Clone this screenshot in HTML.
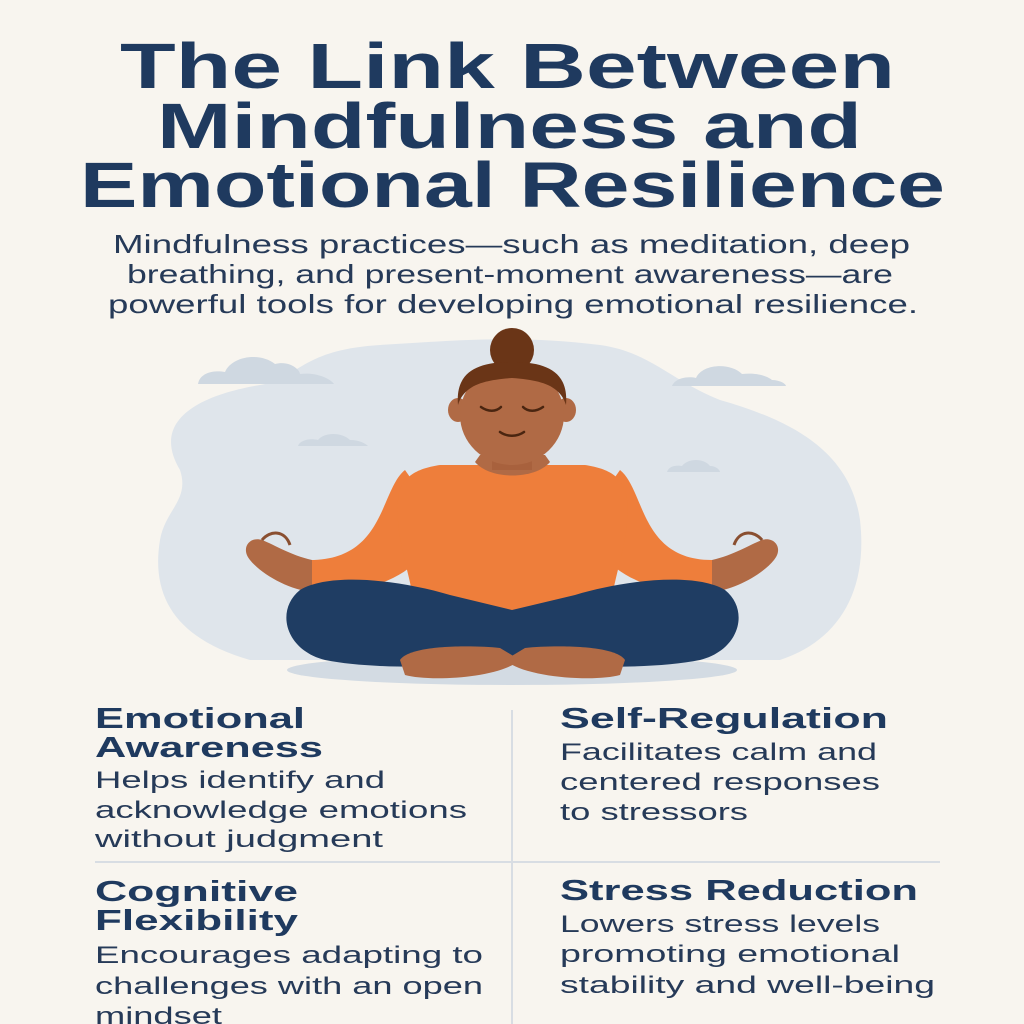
<!DOCTYPE html>
<html><head><meta charset="utf-8"><style>
html,body{margin:0;padding:0;background:#f8f5ef;}
svg{display:block}
text{font-family:"Liberation Sans","DejaVu Sans",sans-serif;}
.t{font-weight:bold;fill:#1f3a5f;font-size:64px}
.s{fill:#263a58;font-size:26px}
.h{font-weight:bold;fill:#1f3a5f;font-size:29px}
.b{fill:#263a58;font-size:24px}
</style></head><body>
<svg width="1024" height="1024" viewBox="0 0 1024 1024">
<rect width="1024" height="1024" fill="#f8f5ef"/>
<text class="t" x="120" y="88" textLength="775" lengthAdjust="spacingAndGlyphs">The Link Between</text>
<text class="t" x="157" y="148" textLength="705" lengthAdjust="spacingAndGlyphs">Mindfulness and</text>
<text class="t" x="80" y="207" textLength="865" lengthAdjust="spacingAndGlyphs">Emotional Resilience</text>
<text class="s" x="113" y="253" textLength="797" lengthAdjust="spacingAndGlyphs">Mindfulness practices—such as meditation, deep</text>
<text class="s" x="127" y="283" textLength="766" lengthAdjust="spacingAndGlyphs">breathing, and present-moment awareness—are</text>
<text class="s" x="108" y="313" textLength="810" lengthAdjust="spacingAndGlyphs">powerful tools for developing emotional resilience.</text>

<!-- blob -->
<path d="M180,470 C150,420 200,395 260,385 C300,378 300,350 380,345 C460,340 520,335 600,345 C650,352 670,380 720,400 C790,420 850,450 860,520 C868,590 840,640 780,660 L250,660 C180,640 150,600 160,540 C165,510 190,500 180,470 Z" fill="#dfe5eb"/>
<!-- clouds -->
<g fill="#cfd8e1">
<path d="M198,384 C200,372 215,370 225,372 C232,356 260,352 275,364 C290,360 300,370 300,374 C315,372 330,378 334,384 Z"/>
<path d="M672,386 C675,378 688,376 696,378 C702,364 730,362 742,374 C760,372 770,378 772,380 C780,380 786,384 786,386 Z"/>
<path d="M298,446 C300,440 310,438 318,440 C324,432 342,432 350,440 C360,440 366,444 368,446 Z"/>
<path d="M667,472 C669,466 676,465 682,466 C688,458 704,458 710,466 C716,466 720,470 720,472 Z"/>
</g>
<!-- shadow -->
<ellipse cx="512" cy="670" rx="225" ry="15" fill="#d3dbe3"/>
<!-- arms -->
<path d="M405,470 C380,490 385,560 310,560 L312,592 C395,595 430,560 440,520 Z" fill="#ee7e3b"/>
<path d="M620,470 C645,490 640,560 712,560 L712,592 C630,595 595,560 585,520 Z" fill="#ee7e3b"/>
<!-- hands -->
<path d="M312,560 C290,555 275,545 262,540 C250,536 240,548 250,560 C262,575 290,590 312,592 Z" fill="#b06a45"/>
<path d="M262,540 C270,530 285,530 290,545" fill="none" stroke="#8a4f30" stroke-width="3"/>
<path d="M712,560 C734,555 749,545 762,540 C774,536 784,548 774,560 C762,575 734,590 712,592 Z" fill="#b06a45"/>
<path d="M762,540 C754,530 739,530 734,545" fill="none" stroke="#8a4f30" stroke-width="3"/>
<!-- torso -->
<path d="M440,465 C420,468 400,475 398,500 C395,540 410,570 415,610 L610,610 C615,570 630,540 627,500 C625,475 605,468 585,465 Z" fill="#ee7e3b"/>
<path d="M475,462 C490,480 535,480 550,462 L545,455 L480,455 Z" fill="#b06a45"/>
<!-- pants -->
<path d="M300,590 C330,572 400,580 450,595 L512,610 L575,595 C625,580 695,572 725,590 C750,610 740,650 700,660 C650,670 560,668 512,660 C465,668 375,670 325,660 C285,650 275,610 300,590 Z" fill="#1f3d63"/>
<!-- feet -->
<path d="M400,660 C410,645 470,645 500,648 L520,660 C500,678 430,682 405,675 Z" fill="#b06a45"/>
<path d="M625,660 C615,645 555,645 525,648 L505,660 C525,678 595,682 620,675 Z" fill="#b06a45"/>
<!-- neck -->
<rect x="492" y="440" width="40" height="30" fill="#a8613d"/>
<!-- head -->
<circle cx="512" cy="350" r="22" fill="#6a3517"/>
<ellipse cx="458" cy="410" rx="10" ry="12" fill="#b06a45"/>
<ellipse cx="566" cy="410" rx="10" ry="12" fill="#b06a45"/>
<ellipse cx="512" cy="415" rx="52" ry="50" fill="#b06a45"/>
<path d="M458,405 C455,370 480,362 512,362 C544,362 569,370 566,405 C560,385 540,380 512,378 C484,380 464,385 458,405 Z" fill="#6a3517"/>
<g fill="none" stroke="#4a2510" stroke-width="2.5" stroke-linecap="round">
<path d="M481,407 C488,412 496,412 501,407"/>
<path d="M523,407 C528,412 536,412 543,407"/>
<path d="M500,432 C507,437 517,437 524,432"/>
</g>
<!-- grid -->
<line x1="512" y1="710" x2="512" y2="1024" stroke="#d8dde3" stroke-width="2"/>
<line x1="95" y1="862" x2="940" y2="862" stroke="#d8dde3" stroke-width="2"/>
<text class="h" x="95" y="728" textLength="210" lengthAdjust="spacingAndGlyphs">Emotional</text>
<text class="h" x="95" y="757" textLength="228" lengthAdjust="spacingAndGlyphs">Awareness</text>
<text class="b" x="95" y="788" textLength="290" lengthAdjust="spacingAndGlyphs">Helps identify and</text>
<text class="b" x="95" y="818" textLength="372" lengthAdjust="spacingAndGlyphs">acknowledge emotions</text>
<text class="b" x="95" y="847" textLength="288" lengthAdjust="spacingAndGlyphs">without judgment</text>
<text class="h" x="560" y="728" textLength="328" lengthAdjust="spacingAndGlyphs">Self-Regulation</text>
<text class="b" x="560" y="760" textLength="317" lengthAdjust="spacingAndGlyphs">Facilitates calm and</text>
<text class="b" x="560" y="790" textLength="320" lengthAdjust="spacingAndGlyphs">centered responses</text>
<text class="b" x="560" y="820" textLength="188" lengthAdjust="spacingAndGlyphs">to stressors</text>
<text class="h" x="95" y="901" textLength="203" lengthAdjust="spacingAndGlyphs">Cognitive</text>
<text class="h" x="95" y="930" textLength="203" lengthAdjust="spacingAndGlyphs">Flexibility</text>
<text class="b" x="95" y="963" textLength="388" lengthAdjust="spacingAndGlyphs">Encourages adapting to</text>
<text class="b" x="95" y="994" textLength="388" lengthAdjust="spacingAndGlyphs">challenges with an open</text>
<text class="b" x="95" y="1024" textLength="127" lengthAdjust="spacingAndGlyphs">mindset</text>
<text class="h" x="560" y="900" textLength="358" lengthAdjust="spacingAndGlyphs">Stress Reduction</text>
<text class="b" x="560" y="932" textLength="320" lengthAdjust="spacingAndGlyphs">Lowers stress levels</text>
<text class="b" x="560" y="962" textLength="340" lengthAdjust="spacingAndGlyphs">promoting emotional</text>
<text class="b" x="560" y="993" textLength="375" lengthAdjust="spacingAndGlyphs">stability and well-being</text>
</svg>
</body></html>
